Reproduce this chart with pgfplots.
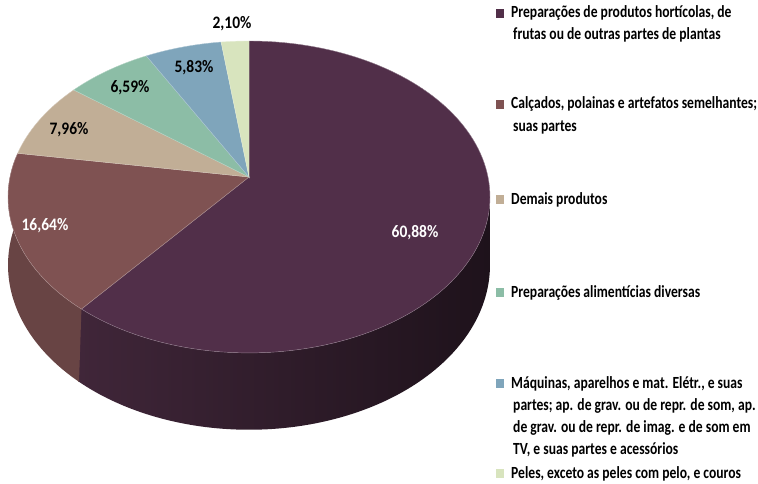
\documentclass[border=0pt]{standalone}
\usepackage{pgfplots}
\pgfplotsset{compat=1.18}
\usepackage{graphicx}
\usepackage{fontspec}
\setmainfont{Carlito}
\definecolor{cA}{RGB}{81,47,73}
\definecolor{cAsl}{RGB}{64,38,57}
\definecolor{cAsr}{RGB}{30,18,27}
\definecolor{cB}{RGB}{127,82,82}
\definecolor{cBs}{RGB}{104,68,68}
\definecolor{cC}{RGB}{193,174,150}
\definecolor{cD}{RGB}{140,189,166}
\definecolor{cE}{RGB}{127,165,187}
\definecolor{cF}{RGB}{216,228,190}
% shares (percent)
\def\vA{60.88}
\def\vB{16.64}
\def\vC{7.96}
\def\vD{6.59}
\def\vE{5.83}
\def\vF{2.10}
\pgfmathsetmacro\aA{90-3.6*\vA}
\pgfmathsetmacro\aB{\aA-3.6*\vB}
\pgfmathsetmacro\aC{\aB-3.6*\vC}
\pgfmathsetmacro\aD{\aC-3.6*\vD}
\pgfmathsetmacro\aE{\aD-3.6*\vE}
\pgfmathsetmacro\aF{\aE-3.6*\vF}
\pgfmathsetmacro\aAx{\aA-1}
\newcommand\lab[1]{\scalebox{1}[1.13]{\fontsize{15.5}{17}\selectfont\bfseries #1}}
\newcommand\leg[1]{\scalebox{1}[1.25]{\fontsize{13.6}{16}\selectfont\bfseries #1}}
\newcommand\sq[1]{\textcolor{#1}{\raisebox{0.3pt}{\rule{8pt}{7.2pt}}}\hspace{7pt}}
\begin{document}
\begin{tikzpicture}
\begin{axis}[
  width=758pt, height=483pt, scale only axis,
  xmin=0, xmax=758, ymin=0, ymax=483,
  axis line style={draw=none}, ticks=none, clip=false,
  declare function={
    px(\t)=249+239*cos(\t)/(1+0.128*sin(\t));
    py(\t)=306+153.4*sin(\t)/(1+0.128*sin(\t));
    dp(\t)=67/(1+0.128*sin(\t));
    th(\t,\a,\b)=\a+(\b-\a)*(1-abs(1-\t));
  },
]
% sides
\addplot[left color=cAsl, right color=cAsr, draw=none, domain=0:2, samples=241, variable=\t]
  ({px(th(\t,\aAx,-7.35))}, {py(th(\t,\aAx,-7.35))-(\t>1)*dp(th(\t,\aAx,-7.35))}) -- cycle;
\addplot[fill=cBs, draw=none, domain=0:2, samples=161, variable=\t]
  ({px(th(\t,-187.35,\aA))}, {py(th(\t,-187.35,\aA))-(\t>1)*dp(th(\t,-187.35,\aA))}) -- cycle;
% top faces
\addplot[fill=cA, draw=white!35!cA, line width=0.4pt, domain=\aA:90, samples=120, variable=\t]
  ({px(\t)},{py(\t)}) -- (axis cs:249,306) -- cycle;
\addplot[fill=cB, draw=white!35!cB, line width=0.4pt, domain=\aB:\aA, samples=50, variable=\t]
  ({px(\t)},{py(\t)}) -- (axis cs:249,306) -- cycle;
\addplot[fill=cC, draw=white!35!cC, line width=0.4pt, domain=\aC:\aB, samples=30, variable=\t]
  ({px(\t)},{py(\t)}) -- (axis cs:249,306) -- cycle;
\addplot[fill=cD, draw=white!35!cD, line width=0.4pt, domain=\aD:\aC, samples=30, variable=\t]
  ({px(\t)},{py(\t)}) -- (axis cs:249,306) -- cycle;
\addplot[fill=cE, draw=white!35!cE, line width=0.4pt, domain=\aE:\aD, samples=30, variable=\t]
  ({px(\t)},{py(\t)}) -- (axis cs:249,306) -- cycle;
\addplot[fill=cF, draw=white!35!cF, line width=0.4pt, domain=\aF:\aE, samples=20, variable=\t]
  ({px(\t)},{py(\t)}) -- (axis cs:249,306) -- cycle;
% data labels
\node[text=white] at (axis cs:415,250) {\lab{60,88\%}};
\node[text=white] at (axis cs:45,257) {\lab{16,64\%}};
\node at (axis cs:69,353) {\lab{7,96\%}};
\node at (axis cs:130,395) {\lab{6,59\%}};
\node at (axis cs:194,415) {\lab{5,83\%}};
\node at (axis cs:232,459) {\lab{2,10\%}};
% legend
\node[anchor=base west, inner sep=0pt] at (axis cs:496,465) {\leg{\sq{cA}Preparações de produtos hortícolas, de}};
\node[anchor=base west, inner sep=0pt] at (axis cs:513,443) {\leg{frutas ou de outras partes de plantas}};
\node[anchor=base west, inner sep=0pt] at (axis cs:496,374) {\leg{\sq{cB}Calçados, polainas e artefatos semelhantes;}};
\node[anchor=base west, inner sep=0pt] at (axis cs:513,352) {\leg{suas partes}};
\node[anchor=base west, inner sep=0pt] at (axis cs:496,279) {\leg{\sq{cC}Demais produtos}};
\node[anchor=base west, inner sep=0pt] at (axis cs:496,186) {\leg{\sq{cD}Preparações alimentícias diversas}};
\node[anchor=base west, inner sep=0pt] at (axis cs:496,95) {\leg{\sq{cE}Máquinas, aparelhos e mat. Elétr., e suas}};
\node[anchor=base west, inner sep=0pt] at (axis cs:513,73) {\leg{partes; ap. de grav. ou de repr. de som, ap.}};
\node[anchor=base west, inner sep=0pt] at (axis cs:513,51) {\leg{de grav. ou de repr. de imag. e de som em}};
\node[anchor=base west, inner sep=0pt] at (axis cs:513,29) {\leg{TV, e suas partes e acessórios}};
\node[anchor=base west, inner sep=0pt] at (axis cs:496,5) {\leg{\sq{cF}Peles, exceto as peles com pelo, e couros}};
\end{axis}
\end{tikzpicture}
\end{document}
